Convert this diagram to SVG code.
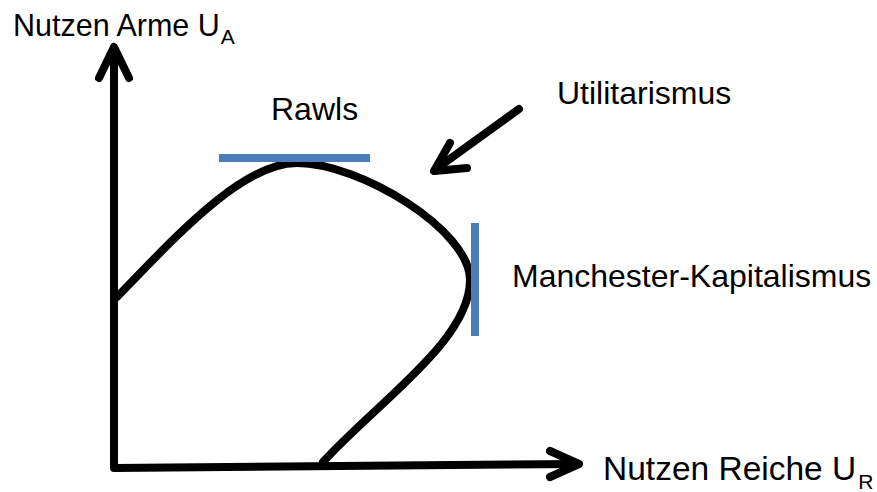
<svg xmlns="http://www.w3.org/2000/svg" width="877" height="492" viewBox="0 0 877 492">
<style>
.ln{fill:none;stroke:#000;stroke-width:8;stroke-linecap:round;stroke-linejoin:round}
.bl{fill:none;stroke:#4a7ebb;stroke-width:8}
.t{font-family:"Liberation Sans",Arial,sans-serif;font-size:32px;fill:#000}
.s{font-size:21px}
</style>
<rect width="877" height="492" fill="#fff"/>
<g id="connectors">
<polyline class="ln" points="114,48 114,468 578,464" style="stroke-linecap:butt"/>
<polyline class="ln" points="99,78 114,47 129,78"/>
<polyline class="ln" points="550,451 579,464 550,477"/>
<line class="ln" x1="519" y1="109" x2="436" y2="169"/>
<polyline class="ln" points="450,143 434,171 467,168"/>
</g>
<g id="curve">
<path class="ln" d="M117,297 C170,243 240,163 297,163 C360,163 470,230 470,280 C470,340 380,400 323,462"/>
</g>
<g id="rawls-line"><line class="bl" x1="219" y1="158" x2="370" y2="158"/></g>
<g id="manchester-line"><line class="bl" x1="475" y1="223" x2="475" y2="336"/></g>
<g id="label-y"><text class="t" x="13" y="36" style="font-size:30.5px">Nutzen Arme U<tspan class="s" dx="1" y="44">A</tspan></text></g>
<g id="label-x"><text class="t" x="603" y="480" style="font-size:33.5px">Nutzen Reiche U<tspan class="s" dx="2" y="489">R</tspan></text></g>
<g id="label-rawls"><text class="t" x="271" y="120">Rawls</text></g>
<g id="label-util"><text class="t" x="557" y="104">Utilitarismus</text></g>
<g id="label-manchester"><text class="t" x="512" y="287">Manchester-Kapitalismus</text></g>
</svg>
